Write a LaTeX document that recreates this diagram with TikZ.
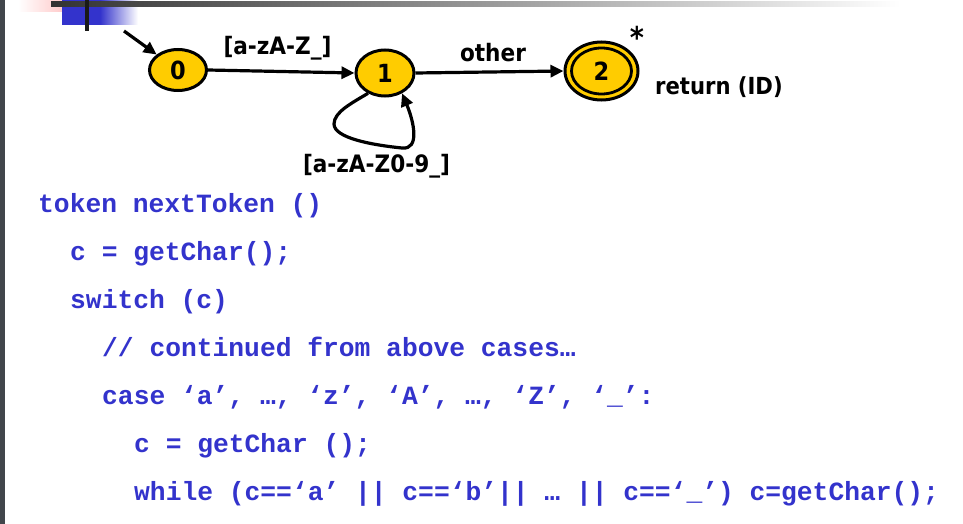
\documentclass[tikz,border=0pt]{standalone}
\usepackage{fontspec}
\setmainfont{DejaVu Sans}
\newfontfamily\codefont{Liberation Mono}
\newfontfamily\lblfont{DejaVu Sans Condensed}
\usetikzlibrary{shapes.geometric,arrows.meta}
\definecolor{codeblue}{RGB}{51,51,204}
\definecolor{stategold}{RGB}{255,204,0}
\definecolor{barGray}{RGB}{65,70,75}
\begin{document}
\begin{tikzpicture}[x=1pt,y=-1pt,
  state/.style={ellipse,draw=black,fill=stategold,line width=3pt,inner sep=0pt,
    font=\lblfont\bfseries\fontsize{25}{27}\selectfont},
  edge/.style={line width=3.2pt,-{Triangle[length=13pt,width=12pt]}},
  lbl/.style={font=\lblfont\bfseries\fontsize{24}{26}\selectfont,inner sep=0pt,anchor=base},
  code/.style={font=\codefont\bfseries\fontsize{26.3}{30}\selectfont,text=codeblue,inner sep=0pt,anchor=base west}]
\useasboundingbox[fill=white] (0,0) rectangle (963,524);
% decorations
\fill[barGray] (0,0) rectangle (4.5,524);
\shade[left color=white,right color={rgb,255:red,255;green,185;blue,185}] (18,0) rectangle (78,12);
\fill[codeblue] (62,0) rectangle (100,25);
\shade[left color=codeblue,right color=white] (100,0) rectangle (138,25);
\shade[left color={rgb,255:red,51;green,51;blue,51},right color=white,middle color={rgb,255:red,150;green,150;blue,150}] (51,2) rectangle (900,7);
\fill[black!90] (85,0) rectangle (89,31);
% automaton
\node[state,minimum width=57pt,minimum height=41pt] (n0) at (178,70) {0};
\node[state,minimum width=58pt,minimum height=46pt] (n1) at (385,73) {1};
\node[state,minimum width=73pt,minimum height=58pt] (n2) at (601.5,71) {};
\node[ellipse,draw=black,line width=2.8pt,inner sep=0pt,minimum width=60pt,minimum height=46pt,
  font=\lblfont\bfseries\fontsize{25}{27}\selectfont] (n2i) at (601.5,71) {2};
\coordinate (start) at (124,31);
\draw[edge] (start) -- (n0);
\draw[edge] (n0.east) -- (n1.west);
\draw[edge] (n1.east) -- (n2.west);
\draw[edge] (n1.230) .. controls (352,103) and (334,112) .. (334,124)
  .. controls (334,138) and (372,145) .. (402,148)
  .. controls (420,150) and (414,122) .. (n1.-50);
\node[lbl] (l01) at (277.5,55) {[a-zA-Z\_]};
\node[lbl] (l12) at (493,62) {other};
\node[lbl] (lloop) at (376.5,172) {[a-zA-Z0-9\_]};
\node[lbl,anchor=base west,font=\lblfont\bfseries\fontsize{23.5}{26}\selectfont] (ret) at (655,95) {return (ID)};
\node[lbl,font=\lblfont\bfseries\fontsize{30}{32}\selectfont] (star) at (637,49) {*};
% code
\node[code] (c1) at (38,212) {token nextToken ()};
\node[code] (c2) at (70,260) {c = getChar();};
\node[code] (c3) at (70,308) {switch (c)};
\node[code] (c4) at (102,356) {// continued from above cases…};
\node[code] (c5) at (102,404) {case ‘a’, …, ‘z’, ‘A’, …, ‘Z’, ‘\_’:};
\node[code] (c6) at (134,452) {c = getChar ();};
\node[code] (c7) at (134,500) {while (c==‘a’ || c==‘b’|| … || c==‘\_’) c=getChar();};
\end{tikzpicture}
\end{document}
